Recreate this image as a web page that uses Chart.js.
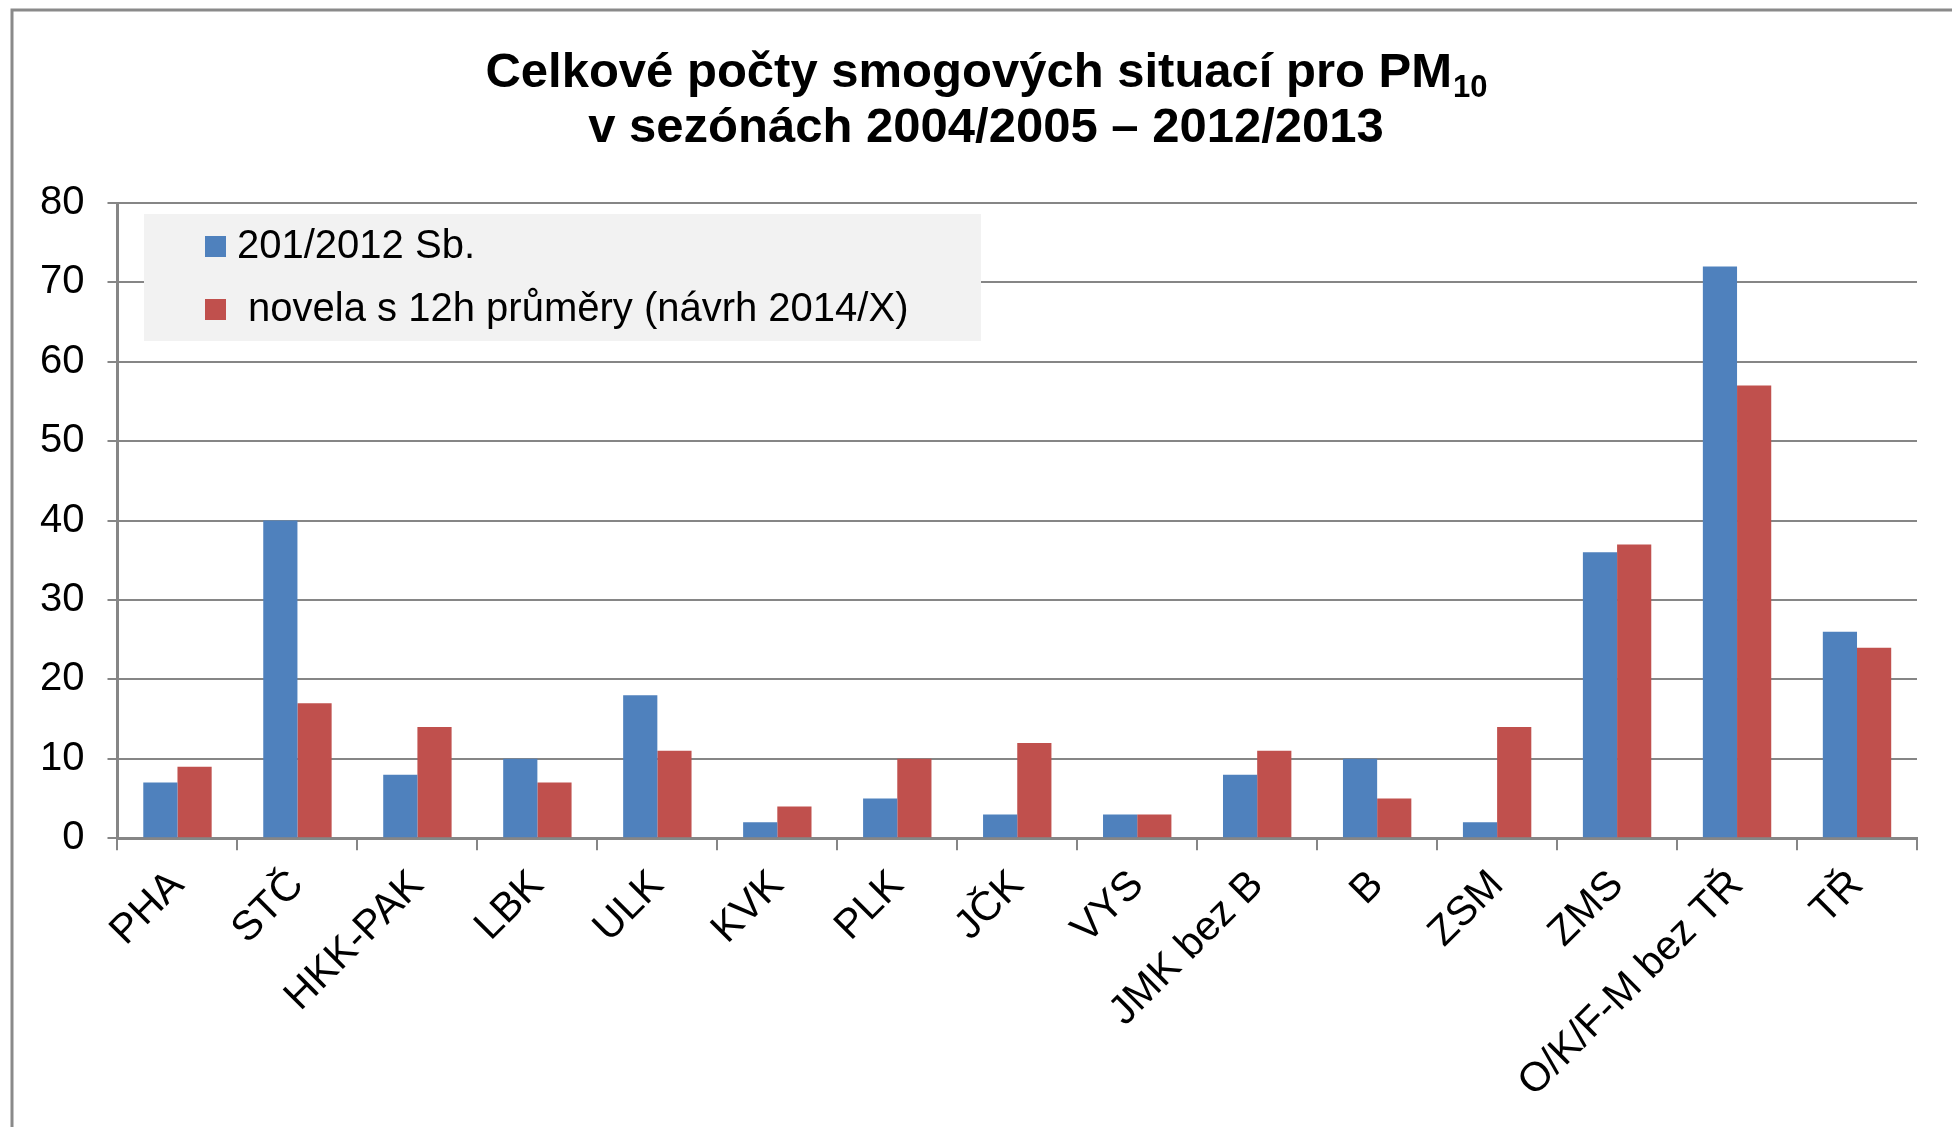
<!DOCTYPE html>
<html>
<head>
<meta charset="utf-8">
<script src="https://cdn.jsdelivr.net/npm/chart.js@4/dist/chart.umd.min.js"></script>
<style>
  html, body { margin: 0; padding: 0; background: #fff; }
  #wrap { width: 1952px; height: 1127px; }
</style>
</head>
<body>
<div id="wrap"><canvas id="smogChart"></canvas></div>
<script>
// Kraje / oblasti
const regions = ['PHA', 'STČ', 'HKK-PAK', 'LBK', 'ULK', 'KVK', 'PLK', 'JČK', 'VYS',
    'JMK bez B', 'B', 'ZSM', 'ZMS', 'O/K/F-M bez TŘ', 'TŘ'];

// Počty smogových situací
const vyhlaska201 = [7, 40, 8, 10, 18, 2, 5, 3, 3, 8, 10, 2, 36, 72, 26];
const novela12h = [9, 17, 14, 7, 11, 4, 10, 12, 3, 11, 5, 14, 37, 57, 24];

const seriesNames = ['201/2012 Sb.', ' novela s 12h průměry (návrh 2014/X)'];
const yTicks = [0, 10, 20, 30, 40, 50, 60, 70, 80];

// titulek: 1. radek ma dolni index u PM
const titleMain = 'Celkové počty smogových situací pro PM';
const titleSub = '10';
const titleLine2 = 'v sezónách 2004/2005 – 2012/2013';

const gridGray = '#868686';
const fontFamily = '"Liberation Sans", Arial, sans-serif';

// ramecek, titulek s indexem a legenda uvnitr plochy grafu
const frameAndLegend = {
    id: 'frameAndLegend',
    beforeDraw(chart) {
        const ctx = chart.ctx;
        ctx.save();
        ctx.fillStyle = '#fff';
        ctx.fillRect(0, 0, chart.width, chart.height);
        ctx.strokeStyle = '#8a8a8a';
        ctx.lineWidth = 3;
        ctx.beginPath();
        ctx.moveTo(12, chart.height);
        ctx.lineTo(12, 10);
        ctx.lineTo(chart.width, 10);
        ctx.stroke();
        ctx.restore();
    },
    beforeDatasetsDraw(chart) {
        const ctx = chart.ctx;
        ctx.save();
        ctx.fillStyle = '#f2f2f2';
        ctx.fillRect(144, 214, 837, 127);
        ctx.font = '40px ' + fontFamily;
        ctx.textBaseline = 'middle';
        chart.data.datasets.forEach((ds, i) => {
            const cy = 246 + i * 63;
            ctx.fillStyle = ds.backgroundColor;
            ctx.fillRect(205, cy - 10, 21, 21);
            ctx.fillStyle = '#000';
            ctx.fillText(ds.label, 237, cy + 1);
        });
        ctx.restore();
    },
    afterDraw(chart) {
        const ctx = chart.ctx;
        const cx = 986;
        ctx.save();
        ctx.fillStyle = '#000';
        ctx.textBaseline = 'alphabetic';
        ctx.textAlign = 'left';
        ctx.font = 'bold 49px ' + fontFamily;
        const wMain = ctx.measureText(titleMain).width;
        ctx.font = 'bold 31px ' + fontFamily;
        const wSub = ctx.measureText(titleSub).width;
        const x0 = cx - (wMain + wSub) / 2;
        ctx.font = 'bold 49px ' + fontFamily;
        ctx.fillText(titleMain, x0, 87);
        ctx.font = 'bold 31px ' + fontFamily;
        ctx.fillText(titleSub, x0 + wMain + 1, 97);
        ctx.font = 'bold 49px ' + fontFamily;
        ctx.textAlign = 'center';
        ctx.fillText(titleLine2, cx, 142);
        ctx.restore();
    }
};

const ctx = document.getElementById('smogChart').getContext('2d');
new Chart(ctx, {
    type: 'bar',
    data: {
        labels: regions,
        datasets: [{
            label: seriesNames[0],
            data: vyhlaska201,
            backgroundColor: '#4F81BD',
            categoryPercentage: 0.57,
            barPercentage: 1.0
        }, {
            label: seriesNames[1],
            data: novela12h,
            backgroundColor: '#C0504D',
            categoryPercentage: 0.57,
            barPercentage: 1.0
        }]
    },
    options: {
        responsive: true,
        maintainAspectRatio: false,
        animation: false,
        layout: {
            padding: { left: 17, right: 35, top: 203, bottom: 9 }
        },
        scales: {
            x: {
                afterFit: axis => { axis.paddingLeft = 0; axis.paddingRight = 0; },
                grid: {
                    drawOnChartArea: false,
                    color: gridGray,
                    lineWidth: 2,
                    tickLength: 12
                },
                border: { color: gridGray, width: 3 },
                ticks: {
                    autoSkip: false,
                    minRotation: 45,
                    maxRotation: 45,
                    padding: 11,
                    color: '#000',
                    font: { family: fontFamily, size: 41 }
                }
            },
            y: {
                min: 0,
                max: 80,
                afterBuildTicks: axis => { axis.ticks = yTicks.map(v => ({ value: v })); },
                grid: {
                    color: gridGray,
                    lineWidth: 2,
                    tickLength: 10
                },
                border: { color: gridGray, width: 3 },
                ticks: {
                    padding: 23,
                    color: '#000',
                    font: { family: fontFamily, size: 40 }
                }
            }
        },
        plugins: {
            legend: { display: false },
            tooltip: { enabled: false },
            title: { display: false }
        }
    },
    plugins: [frameAndLegend]
});
</script>
</body>
</html>
